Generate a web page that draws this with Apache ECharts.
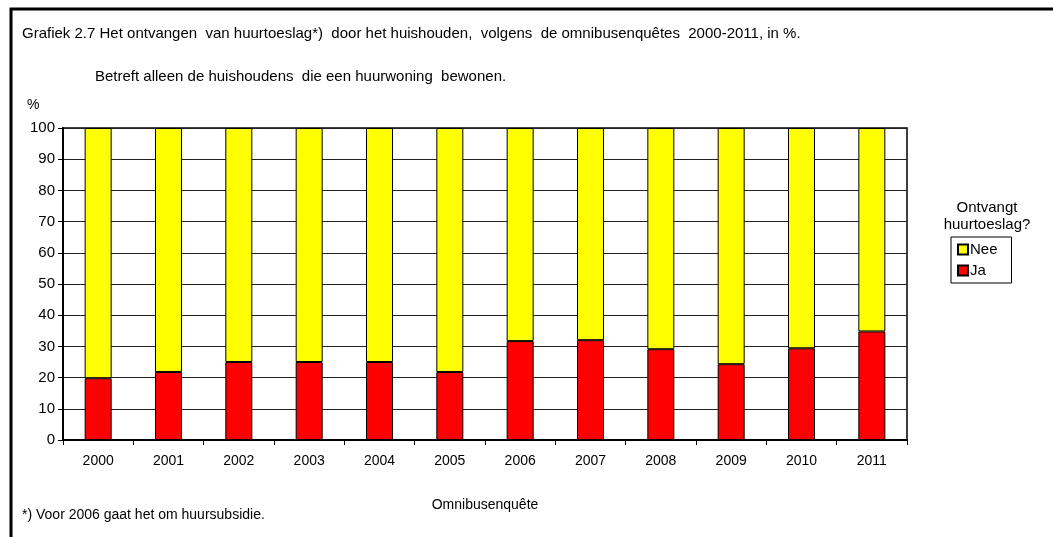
<!DOCTYPE html>
<html>
<head>
<meta charset="utf-8">
<script src="https://cdn.jsdelivr.net/npm/echarts@6/dist/echarts.min.js"></script>
<style>
  html, body { margin: 0; padding: 0; background: #fff; }
  #chart { width: 1053px; height: 537px; }
</style>
</head>
<body>
<div id="chart"></div>
<script>
// Omnibusenquête jaren
const years = ['2000', '2001', '2002', '2003', '2004', '2005', '2006', '2007', '2008', '2009', '2010', '2011'];
// ontvangt huurtoeslag (%)
const ja = [19.8, 21.8, 25.0, 25.0, 25.0, 21.8, 31.7, 32.0, 29.1, 24.3, 29.4, 34.8];
const nee = [80.2, 78.2, 75.0, 75.0, 75.0, 78.2, 68.3, 68.0, 70.9, 75.7, 70.6, 65.2];

const font = 'Liberation Sans, Arial, sans-serif';

const chart = echarts.init(document.getElementById('chart'));
chart.setOption({
  animation: false,
  textStyle: { fontFamily: font, color: '#000' },
  title: [
    {
      text: 'Grafiek 2.7 Het ontvangen  van huurtoeslag*)  door het huishouden,  volgens  de omnibusenquêtes  2000-2011, in %.',
      left: 17, top: 21,
      textStyle: { fontSize: 15, fontWeight: 'normal', color: '#000' },
    },
    {
      text: 'Betreft alleen de huishoudens  die een huurwoning  bewonen.',
      left: 90, top: 64,
      textStyle: { fontSize: 15, fontWeight: 'normal', color: '#000' },
    },
    {
      text: '%',
      left: 22, top: 93,
      textStyle: { fontSize: 14, fontWeight: 'normal', color: '#000' },
    },
    {
      text: 'Ontvangt\nhuurtoeslag?',
      left: 982, top: 194, textAlign: 'center',
      textStyle: { fontSize: 15, fontWeight: 'normal', color: '#000', lineHeight: 17 },
    },
    {
      text: '*) Voor 2006 gaat het om huursubsidie.',
      left: 17, top: 503,
      textStyle: { fontSize: 14, fontWeight: 'normal', color: '#000' },
    },
  ],
  legend: {
    data: ['Nee', 'Ja'],
    orient: 'vertical',
    left: 951, top: 237,
    padding: [5, 14, 5, 6],
    itemGap: 6,
    itemWidth: 10, itemHeight: 10,
    icon: 'rect',
    borderColor: '#000', borderWidth: 1,
    textStyle: { fontSize: 15, color: '#000', padding: [0, 0, 0, -3] },
  },
  grid: {
    left: 63, right: 146, top: 128, bottom: 97,
    show: true, borderColor: '#000', borderWidth: 1.5,
  },
  xAxis: {
    type: 'category',
    data: years,
    name: 'Omnibusenquête',
    nameLocation: 'middle',
    nameGap: 58,
    nameTextStyle: { fontSize: 14, color: '#000' },
    axisLine: { lineStyle: { color: '#000', width: 2 } },
    axisTick: { show: true, interval: 0, length: 5, lineStyle: { color: '#000' } },
    axisLabel: { fontSize: 14, color: '#000', margin: 14 },
  },
  yAxis: {
    type: 'value',
    min: 0, max: 100, interval: 10,
    axisLine: { show: true, lineStyle: { color: '#000', width: 2 } },
    axisTick: { show: true, length: 5, lineStyle: { color: '#000' } },
    axisLabel: { fontSize: 15, color: '#000', margin: 8 },
    splitLine: { lineStyle: { color: '#222', width: 1 } },
  },
  series: [
    {
      name: 'Ja', type: 'bar', stack: 'tot', data: ja, barWidth: 27,
      itemStyle: { color: '#ff0000', borderColor: '#000', borderWidth: 1 },
    },
    {
      name: 'Nee', type: 'bar', stack: 'tot', data: nee, barWidth: 27,
      itemStyle: { color: '#ffff00', borderColor: '#000', borderWidth: 1 },
    },
  ],
  graphic: [
    {
      type: 'polyline',
      shape: { points: [[11, 537], [11, 9], [1053, 9]] },
      style: { stroke: '#000', lineWidth: 3, fill: null },
      silent: true,
    },
  ],
});
</script>
</body>
</html>
